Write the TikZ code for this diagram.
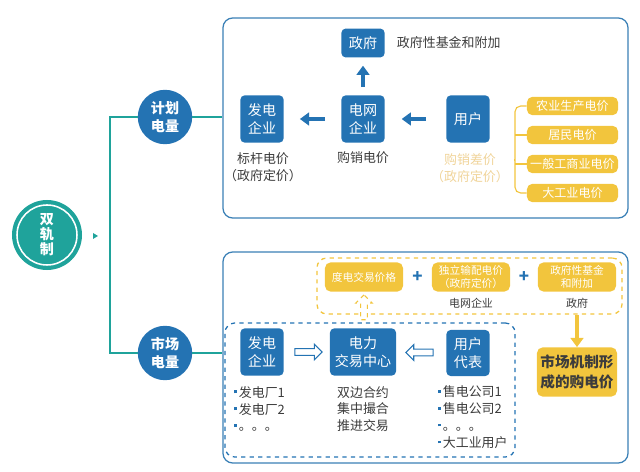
\documentclass[tikz,border=0pt]{standalone}
\usepackage{fontspec}
\setmainfont{Noto Sans CJK SC}
\usepackage{tikz}
\usetikzlibrary{arrows.meta,shapes.arrows,calc}
\definecolor{zblue}{HTML}{2473B3}
\definecolor{zframe}{HTML}{3A80B6}
\definecolor{zteal}{HTML}{1FA39B}
\definecolor{zyellow}{HTML}{F2C53D}
\definecolor{zpale}{HTML}{F0D49A}
\definecolor{zgray}{HTML}{3C3C3C}
\newcommand\lstdot{\textcolor{zblue}{\rule[0.3em]{2pt}{2pt}}\,}

\begin{document}
\begin{tikzpicture}[x=0.025cm,y=-0.025cm,
  bluebox/.style={fill=zblue, text=white, rounded corners=3pt, minimum width=1.08cm,
    minimum height=1.18cm, inner sep=1pt, align=center, font=\fontsize{10}{13}\selectfont},
  pricetag/.style={fill=zyellow, text=white, rounded corners=4pt, inner sep=0pt,
    minimum width=2.28cm, minimum height=0.46cm, font=\fontsize{8.6}{10}\selectfont},
  pricepart/.style={fill=zyellow, text=white, rounded corners=4pt, inner sep=0pt, align=center,
    minimum width=1.95cm, minimum height=0.73cm, font=\fontsize{7.6}{9.2}\selectfont},
  note/.style={text=zgray, align=center, font=\fontsize{9.2}{12}\selectfont},
  ball/.style={circle, fill=zblue, text=white, minimum size=1.36cm, inner sep=0pt,
    align=center, font=\bfseries\fontsize{10}{13}\selectfont},
  frame/.style={draw=zframe, line width=0.9pt, rounded corners=7pt},
  fatarrow/.style={draw=zblue, line width=3pt, -{Triangle[width=9pt,length=6.5pt]}},
  hollow/.style={single arrow, draw=zblue, fill=white, line width=0.8pt, inner sep=2pt,
    single arrow head extend=0.11cm, minimum height=0.68cm},
  teal line/.style={draw=zteal, line width=1.1pt}
]
\useasboundingbox (0,0) rectangle (640,472);

% left part
\node[circle, fill=zteal, minimum size=1.75cm, inner sep=0pt] (dual) at (47,235) {};
\draw[white, line width=1.1pt] (dual.center) circle (30);
\node[text=white, align=center, font=\bfseries\fontsize{10}{10.6}\selectfont] at (dual.center) {双\\轨\\制};
\fill[zteal] (93,233) -- (98,236) -- (93,239) -- cycle;

\node[ball] (plan) at (165,117) {计划\\电量};
\node[ball] (market) at (165,353) {市场\\电量};
\coordinate (trunk) at (110,235);
\draw[teal line] (plan.west) -| (trunk) |- (market.west);

% frames
\node[frame, minimum width=10.125cm, minimum height=5cm] (upper) at (425.5,118) {};
\node[frame, minimum width=10.125cm, minimum height=5.275cm] (lower) at (425.5,357.5) {};
\draw[teal line] (plan.east) -- (plan.east -| upper.west);
\draw[teal line] (market.east) -- (market.east -| lower.west);

% planned quantity
\node[bluebox] (gen) at (262,119) {发电\\企业};
\node[bluebox] (grid) at (363,119) {电网\\企业};
\node[bluebox] (user) at (468,119) {用户};
\node[bluebox, minimum height=0.72cm] (gov) at (363,43) {政府};
\node[note, anchor=west] (fund) at (392,43) {政府性基金和附加};
\node[note] (bench) at (263,167) {标杆电价\\（政府定价）};
\node[note] (buysell) at (363,158) {购销电价};
\node[note, text=zpale] (spread) at (470,168) {购销差价\\（政府定价）};

\draw[fatarrow, shorten <=0.4cm, shorten >=0.4cm] (grid.west) -- (gen.east);
\draw[fatarrow, shorten <=0.5cm, shorten >=0.42cm] (user.west) -- (grid.east);
\draw[fatarrow, shorten <=0.2cm, shorten >=0.2cm] (grid.north) -- (gov.south);

\node[pricetag] (t1) at (572.5,106) {农业生产电价};
\node[pricetag] (t2) at (572.5,135) {居民电价};
\node[pricetag] (t3) at (572.5,164) {一般工商业电价};
\node[pricetag] (t4) at (572.5,193) {大工业电价};
\coordinate (brace) at (515,160);
\draw[zyellow, line width=0.8pt, rounded corners=4pt] (t1.west) -| (brace) |- (t4.west);
\draw[zyellow, line width=0.8pt] (t2.west) -- (t2.west -| brace);
\draw[zyellow, line width=0.8pt] (t3.west) -- (t3.west -| brace);
\draw[zyellow, line width=0.8pt] (brace -| spread.east) -- (brace);

% market quantity
\node[draw=zyellow, dashed, line width=0.9pt, rounded corners=7pt,
  minimum width=7.625cm, minimum height=1.4cm] (formula) at (469.5,286) {};
\node[pricepart] (p1) at (364,277) {度电交易价格};
\node[pricepart] (p2) at (471,277) {独立输配电价\\（政府定价）};
\node[pricepart] (p3) at (577,277) {政府性基金\\和附加};
\node[text=zblue, font=\bfseries\fontsize{12}{12}\selectfont] at ($(p1.east)!0.5!(p2.west)$) {+};
\node[text=zblue, font=\bfseries\fontsize{12}{12}\selectfont] at ($(p2.east)!0.5!(p3.west)$) {+};
\node[note, font=\fontsize{7.8}{9}\selectfont] (gridco) at (471,303) {电网企业};
\node[note, font=\fontsize{7.8}{9}\selectfont] (govt) at (577,303) {政府};

\node[fill=zyellow, text=zgray, rounded corners=4pt, align=center, minimum width=2cm,
  minimum height=1.23cm, inner sep=0pt, font=\bfseries\fontsize{10.4}{14}\selectfont] (final) at (577,372) {市场机制形\\成的购电价};
\draw[zyellow, line width=3pt, -{Triangle[width=9pt,length=6.5pt]}] (formula.south -| final) -- (final.north);

\node[draw=zblue, dashed, line width=0.9pt, rounded corners=7pt,
  minimum width=7.25cm, minimum height=3.35cm] (pool) at (370,390) {};
\node[bluebox] (seller) at (262,352) {发电\\企业};
\node[bluebox, minimum width=1.65cm] (exch) at (363,352) {电力\\交易中心};
\node[bluebox, minimum height=1.15cm] (buyer) at (468,353) {用户\\代表};
\node[hollow] at ($(seller.east)!0.5!(exch.west)$) {};
\node[hollow, shape border rotate=180] at ($(buyer.west)!0.5!(exch.east)$) {};
\node[single arrow, draw=zyellow, dashed, fill=white, line width=0.8pt, inner sep=2pt,
  single arrow head extend=0.12cm, minimum height=0.62cm, shape border rotate=90] at (364,309) {};

\node[note, align=left, anchor=west] (plants) at (229,409) {\lstdot 发电厂1\\\lstdot 发电厂2\\\lstdot 。。。};
\node[note] (modes) at (363,409) {双边合约\\集中撮合\\推进交易};
\node[note, align=left, anchor=west] (sellers) at (433,417) {\lstdot 售电公司1\\\lstdot 售电公司2\\\lstdot 。。。\\\lstdot 大工业用户};
\end{tikzpicture}
\end{document}
